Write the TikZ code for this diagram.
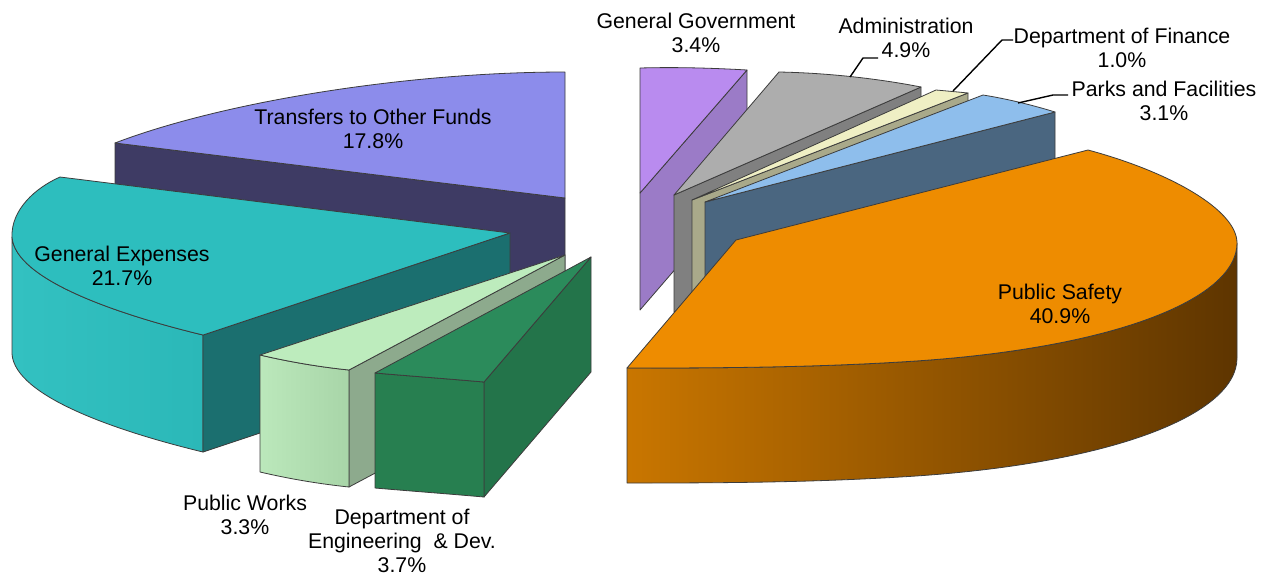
\documentclass[tikz,border=0pt]{standalone}
\usepackage{fontspec}
\setmainfont{Liberation Sans}
\newcommand\lblfont{\fontsize{21.3}{24}\selectfont}
\definecolor{edgec}{HTML}{3C3C3C}
\definecolor{toftop}{HTML}{8C8CEB}
\definecolor{tofside}{HTML}{3E3B64}
\definecolor{getop}{HTML}{2DBEBE}
\definecolor{geside}{HTML}{1B6F6F}
\definecolor{geoutA}{HTML}{33C1C1}
\definecolor{geoutB}{HTML}{2BB8B8}
\definecolor{pwtop}{HTML}{BDECBD}
\definecolor{pwside}{HTML}{8DAA8D}
\definecolor{pwfA}{HTML}{BBE8BB}
\definecolor{pwfB}{HTML}{A8D5A8}
\definecolor{engtop}{HTML}{2B8B5B}
\definecolor{engfront}{HTML}{277F50}
\definecolor{engside}{HTML}{23744A}
\definecolor{ggtop}{HTML}{B98BEF}
\definecolor{ggside}{HTML}{9B7BC7}
\definecolor{admtop}{HTML}{ADADAD}
\definecolor{admside}{HTML}{808080}
\definecolor{fintop}{HTML}{EFEFC4}
\definecolor{finside}{HTML}{A9A98A}
\definecolor{pktop}{HTML}{8EBEEC}
\definecolor{pkside}{HTML}{4A6680}
\definecolor{pstop}{HTML}{EE8C00}
\definecolor{psA}{HTML}{C97600}
\definecolor{psM}{HTML}{955500}
\definecolor{psB}{HTML}{5E3500}
\tikzset{
  face/.style={draw=edgec, line width=0.8pt, line join=round},
  lbl/.style={font=\lblfont, align=center, inner sep=0pt, anchor=base, text=black},
  leader/.style={draw=black, line width=1.4pt, line join=round}
}
\begin{document}
\begin{tikzpicture}[x=1pt,y=-1pt]
\useasboundingbox (0,0) rectangle (1270,574);
\fill[white] (0,0) rectangle (1270,574);

% ---- Transfers to Other Funds
\path[face, fill=tofside] (115,143) -- (565,198) -- (565,313) -- (115,258) -- cycle;
\path[face, fill=toftop] (115,143) .. controls (225,101) and (410,72) .. (565,72) -- (565,198) -- cycle;

% ---- General Expenses
\path[face, left color=geoutA, right color=geoutB] (12,237) .. controls (15,280) and (120,315) .. (203,335) -- (203,452) .. controls (120,432) and (15,397) .. (12,354) -- cycle;
\path[face, fill=geside] (203,335) -- (510,233) -- (510,350) -- (203,452) -- cycle;
\path[face, fill=getop] (510,233) -- (203,335) .. controls (120,315) and (15,280) .. (12,237) .. controls (11,210) and (35,188) .. (60,177) -- cycle;

% ---- Public Works
\path[face, fill=pwside] (565,255) -- (349,370) -- (349,487) -- (565,372) -- cycle;
\path[face, left color=pwfA, right color=pwfB] (260,355) .. controls (290,362) and (320,367) .. (349,370) -- (349,487) .. controls (320,484) and (290,479) .. (260,472) -- cycle;
\path[face, fill=pwtop] (565,255) -- (260,355) .. controls (290,362) and (320,367) .. (349,370) -- cycle;

% ---- Engineering
\path[face, fill=engside] (484,382) -- (591,257) -- (591,372) -- (484,497) -- cycle;
\path[face, fill=engfront] (375,373) .. controls (410,376) and (450,379) .. (484,382) -- (484,497) .. controls (450,494) and (410,491) .. (375,488) -- cycle;
\path[face, fill=engtop] (591,257) -- (375,373) .. controls (410,376) and (450,379) .. (484,382) -- cycle;

% ---- General Government
\path[face, fill=ggside] (747,70) -- (640,193) -- (640,310) -- (747,186) -- cycle;
\path[face, fill=ggtop] (640,68) .. controls (676,67) and (712,68) .. (747,70) -- (640,193) -- cycle;

% ---- Administration
\path[face, fill=admside] (921,87) -- (674,195) -- (674,312) -- (921,203) -- cycle;
\path[face, fill=admtop] (779,72) .. controls (830,73) and (880,79) .. (921,87) -- (674,195) -- cycle;

% ---- Department of Finance
\path[face, fill=finside] (968,93) -- (692,200) -- (692,316) -- (968,209) -- cycle;
\path[face, fill=fintop] (936,90) .. controls (947,91) and (958,92) .. (968,93) -- (692,200) -- cycle;

% ---- Parks and Facilities
\path[face, fill=pkside] (1055,112) -- (705,202) -- (705,318) -- (1055,228) -- cycle;
\path[face, fill=pktop] (983,95) .. controls (1008,99) and (1032,105) .. (1055,112) -- (705,202) -- cycle;

% ---- Public Safety
\path[face, left color=psA, middle color=psM, right color=psB] (627,368) .. controls (700,368) and (800,368) .. (900,362) .. controls (1110,350) and (1237,300) .. (1237,243) -- (1237,358) .. controls (1237,415) and (1110,465) .. (900,477) .. controls (800,483) and (700,483) .. (627,483) -- cycle;
\path[face, fill=pstop] (736,240) -- (1088,150) .. controls (1170,172) and (1237,210) .. (1237,243) .. controls (1237,300) and (1110,350) .. (900,362) .. controls (800,368) and (700,368) .. (627,368) -- cycle;

% ---- labels (anchor = baseline of the last line)
\node[lbl] (ltof) at (373,148.5) {Transfers to Other Funds\\17.8\%};
\node[lbl] (lge) at (122,285.5) {General Expenses\\21.7\%};
\node[lbl] (lpw) at (245,534.5) {Public Works\\3.3\%};
\node[lbl] (leng) at (402,572) {Department of\\Engineering~\ \& Dev.\\3.7\%};
\node[lbl] (lgg) at (696,52.5) {General Government\\3.4\%};
\node[lbl] (ladm) at (906,57.5) {Administration\\4.9\%};
\node[lbl] (lfin) at (1122,67) {Department of Finance\\1.0\%};
\node[lbl] (lpk) at (1164,120) {Parks and Facilities\\3.1\%};
\node[lbl] (lps) at (1060,323) {Public Safety\\40.9\%};

% ---- leader lines
\coordinate (admA) at (850,77);
\coordinate (admB) at (863,58);
\coordinate (admC) at (878,58);
\coordinate (finA) at (953,91);
\coordinate (finB) at (1002,40);
\coordinate (finC) at (1013,40);
\coordinate (pkA) at (1018,103);
\coordinate (pkB) at (1053,95);
\coordinate (pkC) at (1068,95);
\draw[leader] (admA) -- (admB) -- (admC);
\draw[leader] (finA) -- (finB) -- (finC);
\draw[leader] (pkA) -- (pkB) -- (pkC);
\end{tikzpicture}
\end{document}
